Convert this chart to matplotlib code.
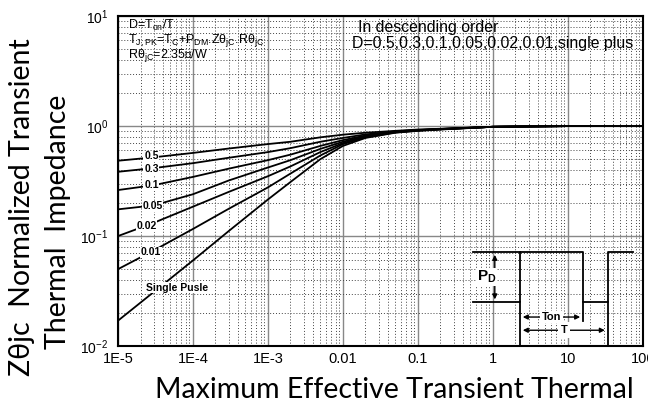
import matplotlib.pyplot as plt
import numpy as np

# pulse width (s)
t = [1e-5, 3e-5, 1e-4, 3e-4, 1e-3, 2e-3, 5e-3, 1e-2, 2e-2, 5e-2, 0.1, 0.2, 0.5, 1, 10, 100]

# normalized Zthjc for each duty cycle
d05 = [0.484, 0.52, 0.57, 0.625, 0.686, 0.72, 0.79, 0.835, 0.87, 0.905, 0.93, 0.945, 0.968, 0.985, 1.0, 1.0]
d03 = [0.384, 0.415, 0.46, 0.515, 0.58, 0.63, 0.72, 0.78, 0.84, 0.895, 0.922, 0.942, 0.966, 0.985, 1.0, 1.0]
d01 = [0.262, 0.29, 0.345, 0.41, 0.49, 0.55, 0.66, 0.745, 0.82, 0.89, 0.918, 0.94, 0.965, 0.985, 1.0, 1.0]
d005 = [0.175, 0.19, 0.24, 0.32, 0.42, 0.49, 0.62, 0.72, 0.81, 0.885, 0.915, 0.938, 0.964, 0.985, 1.0, 1.0]
d002 = [0.10, 0.132, 0.185, 0.252, 0.35, 0.43, 0.58, 0.70, 0.80, 0.88, 0.912, 0.936, 0.963, 0.985, 1.0, 1.0]
d001 = [0.050, 0.074, 0.116, 0.177, 0.277, 0.37, 0.54, 0.685, 0.79, 0.875, 0.91, 0.934, 0.962, 0.985, 1.0, 1.0]
single = [0.017, 0.031, 0.060, 0.111, 0.215, 0.31, 0.50, 0.66, 0.78, 0.87, 0.905, 0.93, 0.96, 0.985, 1.0, 1.0]

curves = [d05, d03, d01, d005, d002, d001, single]
curve_names = ['0.5', '0.3', '0.1', '0.05', '0.02', '0.01', 'Single Pusle']
# where the small label sits on each curve (t, Z)
label_pos = [(2.8e-5, 0.53), (2.8e-5, 0.406), (2.8e-5, 0.29), (2.9e-5, 0.186),
             (2.4e-5, 0.124), (2.75e-5, 0.071), (6.2e-5, 0.034)]

xticks = [1e-5, 1e-4, 1e-3, 1e-2, 1e-1, 1, 10, 100]
xticklabels = ['1E-5', '1E-4', '1E-3', '0.01', '0.1', '1', '10', '100']

plt.rcParams['font.family'] = ['Liberation Sans', 'DejaVu Sans']
plt.rcParams['mathtext.default'] = 'regular'

fig = plt.figure(figsize=(6.48, 4.12), dpi=100)
ax = fig.add_axes([0.182, 0.160, 0.810, 0.801])

for ys in curves:
    ax.plot(t, ys, color='black', lw=1.3, zorder=3)

for name, (lx, ly) in zip(curve_names, label_pos):
    ax.text(lx, ly, name, fontsize=7.5, fontweight='bold', ha='center', va='center',
            zorder=4, bbox=dict(facecolor='white', edgecolor='none', pad=0.5))

ax.set_xscale('log')
ax.set_yscale('log')
ax.set_xlim(1e-5, 100)
ax.set_ylim(1e-2, 10)
ax.set_xticks(xticks)
ax.set_xticklabels(xticklabels, fontsize=10.5)
ax.tick_params(axis='both', which='both', length=0)
ax.tick_params(axis='x', pad=4)
ax.tick_params(axis='y', pad=7, labelsize=10)

ax.grid(True, which='major', color='#888888', lw=1.0, ls='-')
ax.grid(True, which='minor', color='#444444', lw=0.7, ls=(0, (1, 2)))
for s in ax.spines.values():
    s.set_linewidth(1.5)

# info text top left
ax.text(0.019, 0.972, r'D=T$_{on}$/T', transform=ax.transAxes, fontsize=9, va='center')
ax.text(0.019, 0.927, r'T$_{J,PK}$=T$_{C}$+P$_{DM}$.Z$θ_{jC}$.R$θ_{jC}$',
        transform=ax.transAxes, fontsize=9, va='center')
ax.text(0.019, 0.880, 'R$θ_{jC}$=2.35℃/W', transform=ax.transAxes, fontsize=9, va='center')

ax.text(0.457, 0.964, 'In descending order', transform=ax.transAxes, fontsize=11.4, va='center')
ax.text(0.446, 0.918, 'D=0.5,0.3,0.1,0.05,0.02,0.01,single plus', transform=ax.transAxes,
        fontsize=11.4, va='center')

# pulse sketch, bottom right
kw = dict(color='black', lw=1.3, transform=ax.transAxes, zorder=5)
lo, hi = 0.133, 0.285
ax.plot([0.676, 0.766, 0.766, 0.886, 0.886, 0.933, 0.933, 0.981],
        [lo, lo, hi, hi, lo, lo, hi, hi], **kw)
ax.plot([0.676, 0.766], [hi, hi], **kw)
ax.plot([0.766, 0.766], [lo, 0.0], **kw)
ax.plot([0.886, 0.886], [lo, 0.075], **kw)
ax.plot([0.933, 0.933], [lo, 0.0], **kw)
ax.annotate('', xy=(0.718, hi), xytext=(0.718, lo), xycoords='axes fraction',
            arrowprops=dict(arrowstyle='<|-|>', color='black', lw=1, mutation_scale=7))
ax.text(0.703, 0.21, r'P$_{D}$', transform=ax.transAxes, fontsize=11, fontweight='bold',
        ha='center', va='center', zorder=6,
        bbox=dict(facecolor='white', edgecolor='none', pad=0.5))
ax.annotate('', xy=(0.766, 0.088), xytext=(0.886, 0.088), xycoords='axes fraction',
            arrowprops=dict(arrowstyle='<|-|>', color='black', lw=1, mutation_scale=7))
ax.text(0.826, 0.088, 'Ton', transform=ax.transAxes, fontsize=8, fontweight='bold',
        ha='center', va='center', zorder=6,
        bbox=dict(facecolor='white', edgecolor='none', pad=1))
ax.annotate('', xy=(0.766, 0.048), xytext=(0.933, 0.048), xycoords='axes fraction',
            arrowprops=dict(arrowstyle='<|-|>', color='black', lw=1, mutation_scale=7))
ax.text(0.85, 0.048, 'T', transform=ax.transAxes, fontsize=8, fontweight='bold',
        ha='center', va='center', zorder=6,
        bbox=dict(facecolor='white', edgecolor='none', pad=2))

# axis titles
fig.text(0.034, 0.498, 'Zθjc  Normalized Transient', rotation=90, ha='center', va='center',
         fontsize=20.5, family=['Lato', 'DejaVu Sans'])
fig.text(0.0895, 0.461, 'Thermal  Impedance', rotation=90, ha='center', va='center',
         fontsize=20.5, family=['Lato', 'DejaVu Sans'])
fig.text(0.608, 0.053, 'Maximum Effective Transient Thermal', ha='center', va='center',
         fontsize=20.5, family=['Lato', 'DejaVu Sans'])

plt.savefig('out.png', dpi=100)
